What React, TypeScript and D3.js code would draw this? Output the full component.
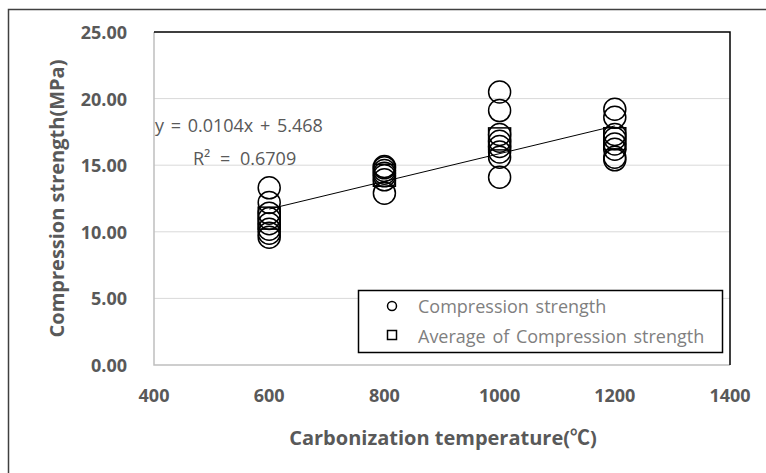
import { useRef, useEffect } from 'react'
import * as d3 from 'd3'

const temperatures = [600, 800, 1000, 1200]
const strength600 = [13.3, 12.2, 11.4, 11.0, 10.6, 10.2, 9.9, 9.6]
const strength800 = [14.9, 14.8, 14.6, 14.4, 14.2, 13.9, 12.9]
const strength1000 = [20.5, 19.1, 17.3, 16.8, 16.4, 16.0, 15.6, 14.1]
const strength1200 = [19.2, 18.6, 17.3, 17.0, 16.6, 16.2, 15.6, 15.4]
const strengthSeries = [strength600, strength800, strength1000, strength1200]

const xTicks = [400, 600, 800, 1000, 1200, 1400]
const yTicks = [0, 5, 10, 15, 20, 25]
const trendSlope = 0.0104
const trendIntercept = 5.468
const trendText = 'y = 0.0104x + 5.468'
const r2Text = 'R² = 0.6709'
const legendLabels = ['Compression strength', 'Average of Compression strength']

const W = 766
const H = 473
const FONT = '"Open Sans", "Noto Sans CJK KR", sans-serif'
const GRAY = '#595959'

const App = () => {
  const elRef = useRef<SVGSVGElement>(null)

  useEffect(() => {
    const svg = d3.select(elRef.current as SVGSVGElement)
    svg.selectAll('*').remove()

    const x = d3.scaleLinear().domain([400, 1400]).range([154, 730])
    const y = d3.scaleLinear().domain([0, 25]).range([365, 32])

    // outer chart frame
    svg.append('path')
      .attr('d', `M8.5,${H} V9.5 H${W}`)
      .attr('fill', 'none')
      .attr('stroke', '#404040')
      .attr('stroke-width', 1.5)

    // gridlines
    svg.append('g')
      .selectAll('line')
      .data(yTicks.slice(1, -1))
      .enter()
      .append('line')
      .attr('x1', x(400))
      .attr('x2', x(1400))
      .attr('y1', (d) => y(d))
      .attr('y2', (d) => y(d))
      .attr('stroke', '#d9d9d9')
      .attr('stroke-width', 1)

    // plot borders: left/bottom light gray, top/right black
    svg.append('path')
      .attr('d', `M${x(400)},${y(25)} V${y(0)} H${x(1400)}`)
      .attr('fill', 'none')
      .attr('stroke', '#bfbfbf')
      .attr('stroke-width', 1.5)
    svg.append('path')
      .attr('d', `M${x(400)},${y(25)} H${x(1400)} V${y(0)}`)
      .attr('fill', 'none')
      .attr('stroke', '#000')
      .attr('stroke-width', 1.5)

    // y tick labels
    svg.append('g')
      .selectAll('text')
      .data(yTicks)
      .enter()
      .append('text')
      .attr('x', 127)
      .attr('y', (d) => y(d) + 7)
      .attr('text-anchor', 'end')
      .attr('font-family', FONT)
      .attr('font-weight', 'bold')
      .attr('font-size', 18)
      .attr('fill', GRAY)
      .text((d) => d.toFixed(2))

    // x tick labels
    svg.append('g')
      .selectAll('text')
      .data(xTicks)
      .enter()
      .append('text')
      .attr('x', (d) => x(d))
      .attr('y', 402)
      .attr('text-anchor', 'middle')
      .attr('font-family', FONT)
      .attr('font-weight', 'bold')
      .attr('font-size', 18)
      .attr('fill', GRAY)
      .text((d) => d)

    // axis titles
    svg.append('text')
      .attr('transform', `translate(57, ${(y(0) + y(25)) / 2}) rotate(-90)`)
      .attr('text-anchor', 'middle')
      .attr('dy', '0.35em')
      .attr('font-family', FONT)
      .attr('font-weight', 'bold')
      .attr('font-size', 20)
      .attr('fill', GRAY)
      .text('Compression strength(MPa)')

    svg.append('text')
      .attr('x', 443)
      .attr('y', 445)
      .attr('text-anchor', 'middle')
      .attr('font-family', FONT)
      .attr('font-weight', 'bold')
      .attr('font-size', 20)
      .attr('fill', GRAY)
      .text('Carbonization temperature(℃)')

    // average squares
    const averages = strengthSeries.map((s) => d3.mean(s) as number)
    svg.append('g')
      .selectAll('rect')
      .data(averages)
      .enter()
      .append('rect')
      .attr('x', (_, i) => x(temperatures[i]) - 11)
      .attr('y', (d) => y(d) - 11)
      .attr('width', 22)
      .attr('height', 22)
      .attr('fill', 'none')
      .attr('stroke', '#000')
      .attr('stroke-width', 1.5)

    // points
    const points = strengthSeries.flatMap((s, i) => s.map((v) => ({ t: temperatures[i], v })))
    svg.append('g')
      .selectAll('circle')
      .data(points)
      .enter()
      .append('circle')
      .attr('cx', (d) => x(d.t))
      .attr('cy', (d) => y(d.v))
      .attr('r', 11)
      .attr('fill', 'none')
      .attr('stroke', '#000')
      .attr('stroke-width', 1.5)

    // linear trendline
    const line = d3.line<number>()
      .x((d) => x(d))
      .y((d) => y(trendSlope * d + trendIntercept))
    svg.append('path')
      .datum([600, 1200])
      .attr('d', line)
      .attr('fill', 'none')
      .attr('stroke', '#000')
      .attr('stroke-width', 1)

    svg.append('text')
      .attr('x', 155)
      .attr('y', 132)
      .attr('font-family', FONT)
      .attr('font-size', 18)
      .attr('word-spacing', 2)
      .attr('fill', GRAY)
      .text(trendText)
    svg.append('text')
      .attr('x', 193)
      .attr('y', 165)
      .attr('font-family', FONT)
      .attr('font-size', 18)
      .attr('word-spacing', 5)
      .attr('fill', GRAY)
      .text(r2Text)

    // legend
    const lg = svg.append('g')
    lg.append('rect')
      .attr('x', 358.5)
      .attr('y', 290.5)
      .attr('width', 364)
      .attr('height', 62)
      .attr('fill', '#fff')
      .attr('stroke', '#000')
      .attr('stroke-width', 1.5)
    lg.append('circle')
      .attr('cx', 392)
      .attr('cy', 306)
      .attr('r', 4.5)
      .attr('fill', 'none')
      .attr('stroke', '#000')
      .attr('stroke-width', 1.5)
    lg.append('rect')
      .attr('x', 387.5)
      .attr('y', 330.5)
      .attr('width', 9)
      .attr('height', 9)
      .attr('fill', 'none')
      .attr('stroke', '#000')
      .attr('stroke-width', 1.5)
    lg.selectAll('text')
      .data(legendLabels)
      .enter()
      .append('text')
      .attr('x', 418)
      .attr('y', (_, i) => 313 + i * 30)
      .attr('font-family', FONT)
      .attr('font-size', 18)
      .attr('word-spacing', 2)
      .attr('fill', '#7f7f7f')
      .text((d) => d)
  }, [])

  return (
    <svg
      ref={elRef}
      width={W}
      height={H}
      style={{ position: 'absolute', left: 0, top: 0, background: '#fff' }}
    />
  )
}

export default App
